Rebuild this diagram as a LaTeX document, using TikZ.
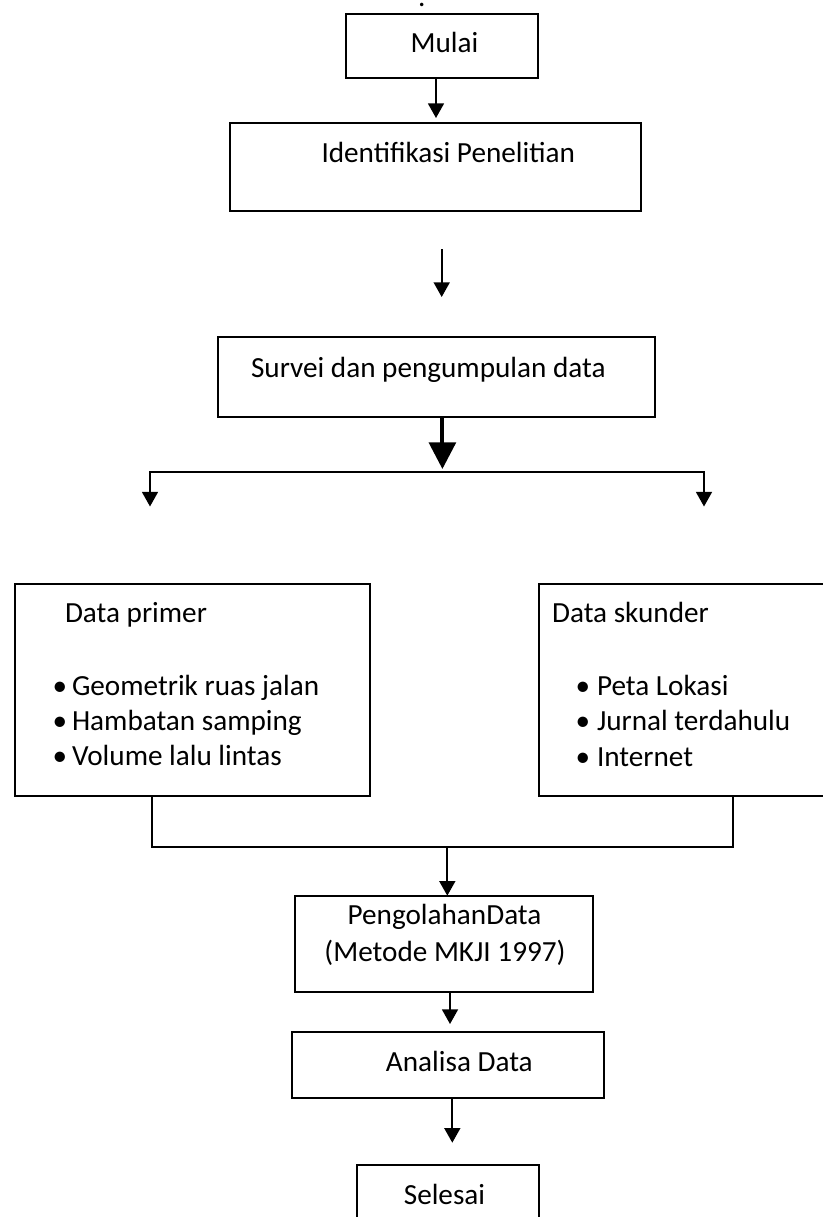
\documentclass[tikz,border=0pt]{standalone}
\usepackage{fontspec}
\setmainfont{Carlito}
\usetikzlibrary{arrows.meta}
\begin{document}
\begin{tikzpicture}[x=0.75pt,y=-0.75pt,
  box/.style={draw,line width=1.5pt,rectangle,inner sep=0pt,outer sep=0pt},
  conn/.style={line width=1.3pt},
  arr/.style={conn,-{Triangle[width=12pt,length=11pt]}},
  bigarr/.style={line width=3pt,-{Triangle[width=20pt,length=20pt]}},
  lbl/.style={inner sep=0pt,outer sep=0pt,font=\fontsize{21.9pt}{26pt}\selectfont}]
\useasboundingbox (0,0) rectangle (822,1217);
% boxes
\node[box,minimum width=144pt,minimum height=48.2pt] (mulai) at (442,45.85) {};
\node[box,minimum width=308.5pt,minimum height=66pt] (ident) at (435.35,166.7) {};
\node[box,minimum width=327.7pt,minimum height=60.2pt] (survei) at (436.15,377.15) {};
\node[box,minimum width=266.25pt,minimum height=159pt] (primer) at (192.5,690) {};
\node[box,minimum width=266.25pt,minimum height=159pt] (skunder) at (716.5,690) {};
\node[box,minimum width=224pt,minimum height=72pt] (olah) at (444,943.7) {};
\node[box,minimum width=234.5pt,minimum height=49.3pt] (analisa) at (448,1064.85) {};
\node[box,minimum width=136.7pt,minimum height=64pt] (selesai) at (448.15,1207.35) {};
% texts
\node[lbl,anchor=base] (dot) at (421.7,6.5) {.};
\node[lbl,anchor=base] (tmulai) at (444.5,52.7) {Mulai};
\node[lbl,anchor=base] (tident) at (448.2,162.3) {Identifikasi Penelitian};
\node[lbl,anchor=base] (tsurvei) at (428.35,377.3) {Survei dan pengumpulan data};
\node[lbl,anchor=base] (tprimer) at (136,622) {Data primer};
\node[lbl,anchor=base] (bp1) at (60,695) {•};
\node[lbl,anchor=base] (bp2) at (60,730) {•};
\node[lbl,anchor=base] (bp3) at (60,765) {•};
\node[lbl,anchor=base west] (ip1) at (72,695) {Geometrik ruas jalan};
\node[lbl,anchor=base west] (ip2) at (72,730) {Hambatan samping};
\node[lbl,anchor=base west] (ip3) at (72,765) {Volume lalu lintas};
\node[lbl,anchor=base] (tskunder) at (630.5,622) {Data skunder};
\node[lbl,anchor=base] (bs1) at (583,695) {•};
\node[lbl,anchor=base] (bs2) at (583,730) {•};
\node[lbl,anchor=base] (bs3) at (583,766) {•};
\node[lbl,anchor=base west] (is1) at (597,695) {Peta Lokasi};
\node[lbl,anchor=base west] (is2) at (597,730) {Jurnal terdahulu};
\node[lbl,anchor=base west] (is3) at (597,766) {Internet};
\node[lbl,anchor=base] (tolah1) at (444.5,924) {PengolahanData};
\node[lbl,anchor=base] (tolah2) at (445,961) {(Metode MKJI 1997)};
\node[lbl,anchor=base] (tanalisa) at (459.35,1071.7) {Analisa Data};
\node[lbl,anchor=base] (tselesai) at (444.5,1204.3) {Selesai};
% connector coordinates
\coordinate (c1) at (436,118);
\coordinate (f1) at (441.7,249);
\coordinate (f2) at (441.7,297);
\coordinate (t1) at (442.4,469);
\coordinate (bl) at (150,472);
\coordinate (br) at (704,472);
\coordinate (blt) at (150,506.5);
\coordinate (brt) at (704,506.5);
\coordinate (pl) at (152,847);
\coordinate (pr) at (733,847);
\coordinate (m1) at (447.3,847);
\coordinate (c4) at (450,1024);
\coordinate (c5) at (452.3,1142.7);
% connectors
\draw[arr] (mulai.south -| c1) -- (c1);
\draw[arr] (f1) -- (f2);
\draw[bigarr] (survei.south -| t1) -- (t1);
\draw[conn,{Triangle[width=12pt,length=11pt]}-{Triangle[width=12pt,length=11pt]}] (blt) -- (bl) -- (br) -- (brt);
\draw[conn] (primer.south -| pl) -- (pl) -- (pr) -- (skunder.south -| pr);
\draw[arr] (m1) -- (olah.north -| m1);
\draw[arr] (olah.south -| c4) -- (c4);
\draw[arr] (analisa.south -| c5) -- (c5);
\end{tikzpicture}
\end{document}
